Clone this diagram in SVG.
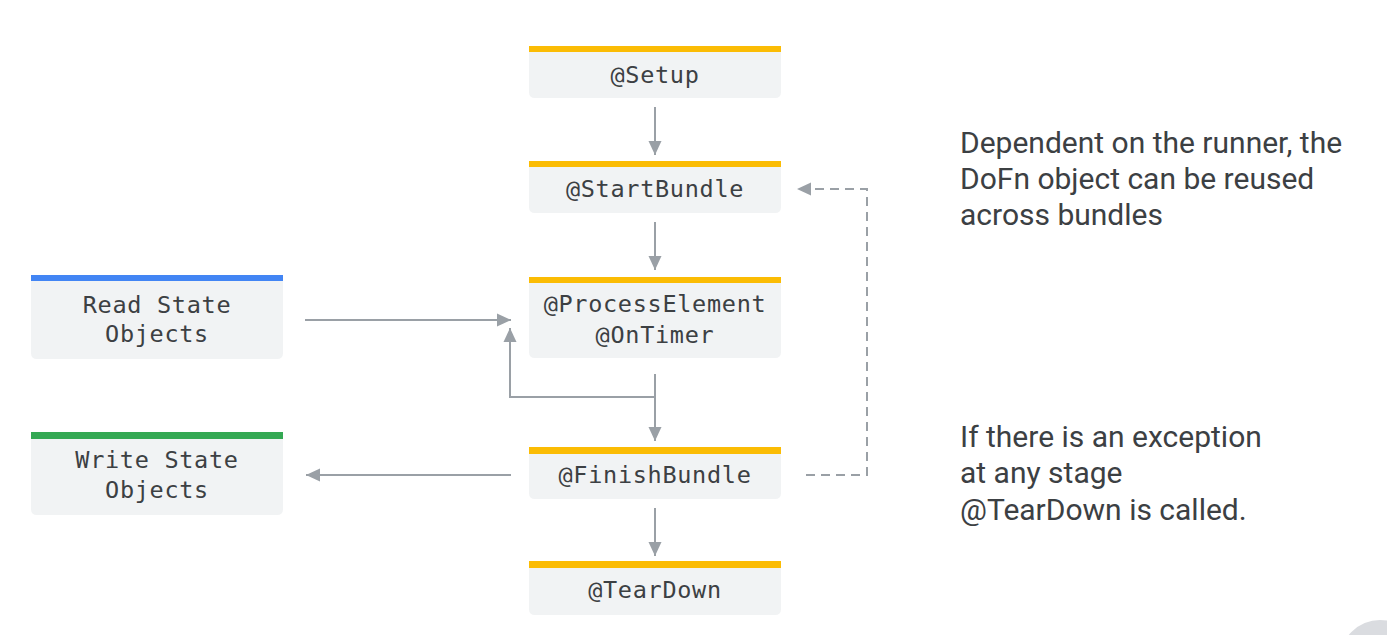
<svg xmlns="http://www.w3.org/2000/svg" width="1387" height="635" viewBox="0 0 1387 635">
<style>
.box{fill:#f1f3f4}
.y{fill:#fbbc04}
.mono{font-family:"DejaVu Sans Mono","Liberation Mono",monospace;font-size:23.5px;letter-spacing:0.7px;fill:#3c4043;text-anchor:middle}
.note{font-family:Roboto,"Liberation Sans",sans-serif;font-size:30px;fill:#3c4043}
.c{fill:none;stroke:#9aa0a6;stroke-width:2}
.d{stroke-dasharray:9 6}
</style>
<defs>
<marker id="ah" markerUnits="userSpaceOnUse" markerWidth="16" markerHeight="16" viewBox="0 0 16 16" refX="15" refY="8" orient="auto">
<path d="M1,1.5 L15,8 L1,14.5 Z" fill="#9aa0a6"/>
</marker>
</defs>
<rect width="1387" height="635" fill="#ffffff"/>
<g id="setup">
<path class="box" d="M529,46 H781 V92 Q781,98 775,98 H535 Q529,98 529,92 Z"/>
<rect class="y" x="529" y="46" width="252" height="6"/>
<text class="mono" x="655" y="83">@Setup</text>
</g>
<g id="startbundle">
<path class="box" d="M529,161 H781 V207 Q781,213 775,213 H535 Q529,213 529,207 Z"/>
<rect class="y" x="529" y="161" width="252" height="6"/>
<text class="mono" x="655" y="197">@StartBundle</text>
</g>
<g id="processelement">
<path class="box" d="M529,277 H781 V352 Q781,358 775,358 H535 Q529,358 529,352 Z"/>
<rect class="y" x="529" y="277" width="252" height="6"/>
<text class="mono" x="655" y="312">@ProcessElement</text>
<text class="mono" x="655" y="343">@OnTimer</text>
</g>
<g id="finishbundle">
<path class="box" d="M529,447 H781 V493 Q781,499 775,499 H535 Q529,499 529,493 Z"/>
<rect class="y" x="529" y="447" width="252" height="7"/>
<text class="mono" x="655" y="483">@FinishBundle</text>
</g>
<g id="teardown">
<path class="box" d="M529,561 H781 V609 Q781,615 775,615 H535 Q529,615 529,609 Z"/>
<rect class="y" x="529" y="561" width="252" height="7"/>
<text class="mono" x="655" y="598">@TearDown</text>
</g>
<g id="readstate">
<path class="box" d="M31,275 H283 V353 Q283,359 277,359 H37 Q31,359 31,353 Z"/>
<rect x="31" y="275" width="252" height="6" fill="#4285f4"/>
<text class="mono" x="157" y="313">Read State</text>
<text class="mono" x="157" y="342">Objects</text>
</g>
<g id="writestate">
<path class="box" d="M31,432 H283 V509 Q283,515 277,515 H37 Q31,515 31,509 Z"/>
<rect x="31" y="432" width="252" height="7" fill="#34a853"/>
<text class="mono" x="157" y="468">Write State</text>
<text class="mono" x="157" y="498">Objects</text>
</g>
<g id="connectors">
<path class="c" marker-end="url(#ah)" d="M655,107 V155"/>
<path class="c" marker-end="url(#ah)" d="M655,222 V270"/>
<path class="c" marker-end="url(#ah)" d="M655,374 V441"/>
<path class="c" marker-end="url(#ah)" d="M655,397 H510 V328"/>
<path class="c" marker-end="url(#ah)" d="M305,320 H511"/>
<path class="c" marker-end="url(#ah)" d="M511,475 H306"/>
<path class="c" marker-end="url(#ah)" d="M655,508 V556"/>
<path class="c d" marker-end="url(#ah)" d="M806,475 H867 V189 H797"/>
</g>
<g id="notes">
<text class="note" x="960" y="153">Dependent on the runner, the</text>
<text class="note" x="960" y="189">DoFn object can be reused</text>
<text class="note" x="960" y="225">across bundles</text>
<text class="note" x="960" y="447">If there is an exception</text>
<text class="note" x="960" y="483">at any stage</text>
<text class="note" x="960" y="520">@TearDown is called.</text>
</g>
<circle cx="1380" cy="660" r="40" fill="#dadce0"/>
</svg>
